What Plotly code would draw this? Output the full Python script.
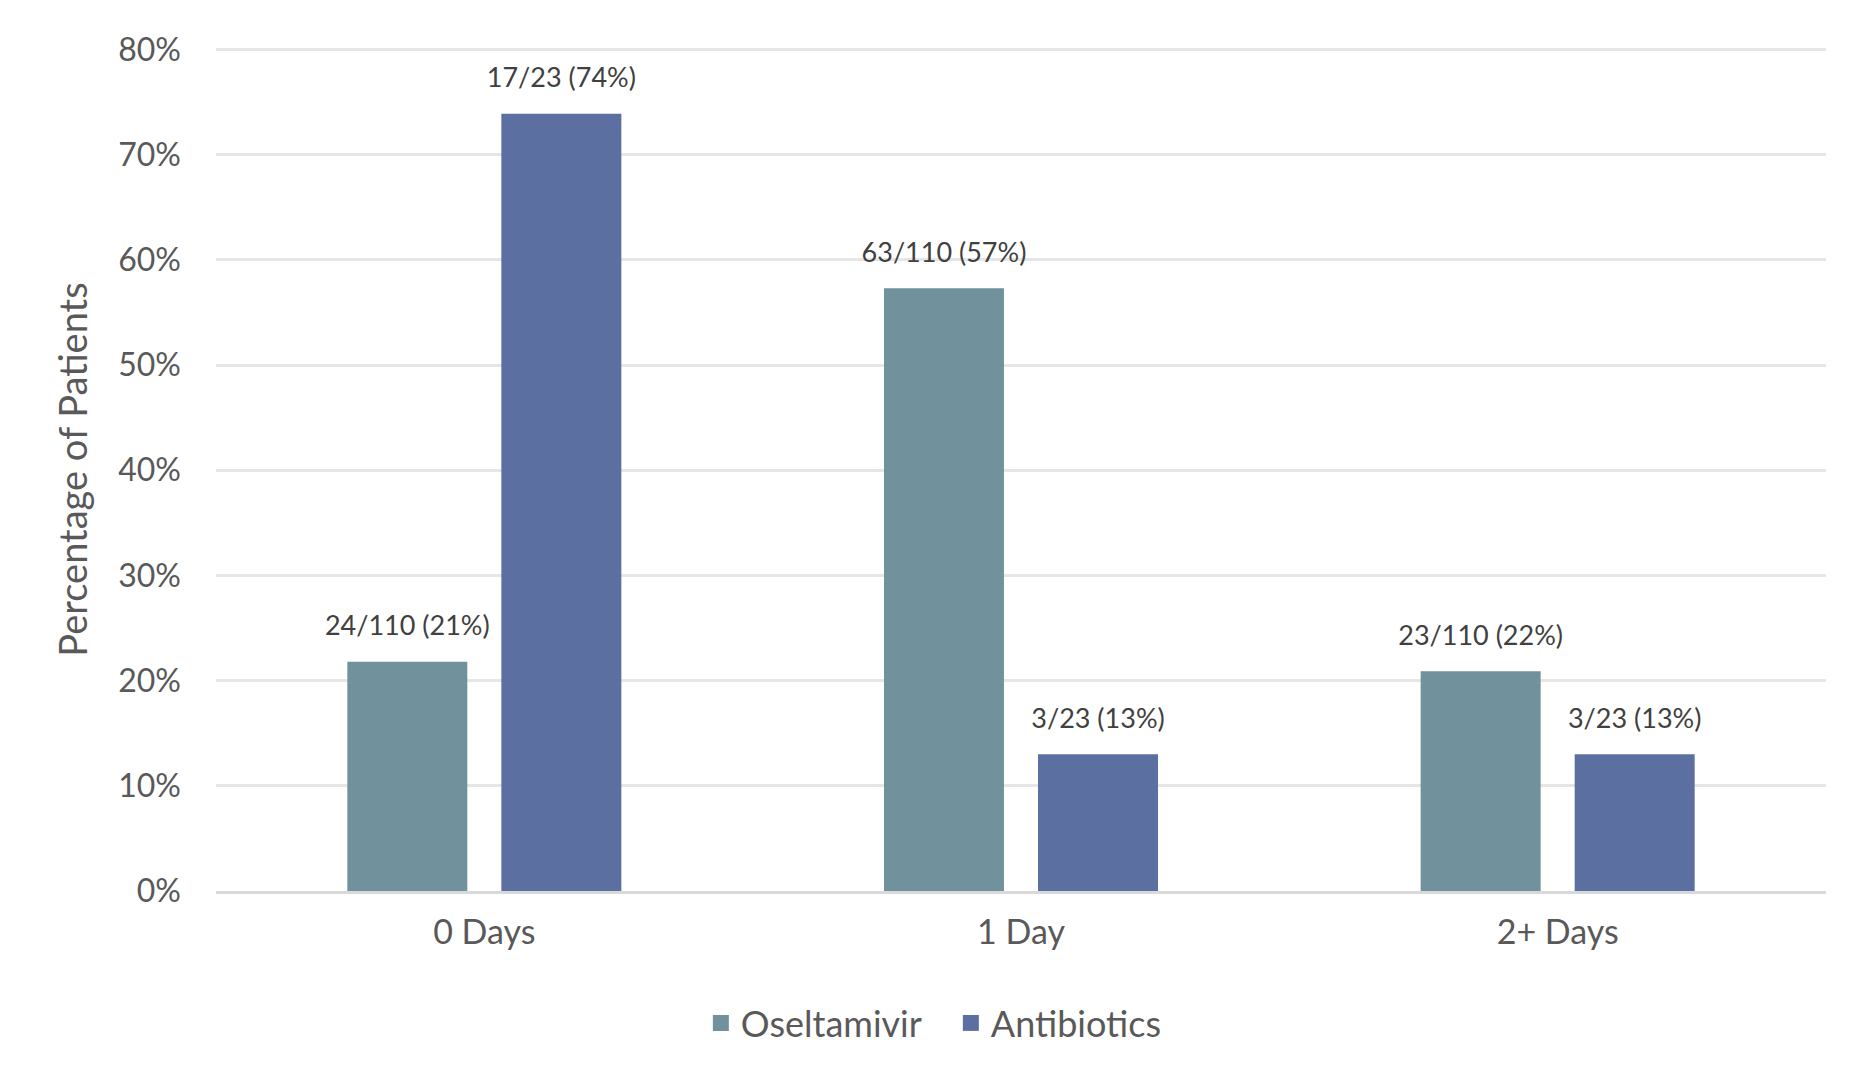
import plotly.graph_objects as go

categories = ["0 Days", "1 Day", "2+ Days"]
series_names = ["Oseltamivir", "Antibiotics"]
oseltamivir = [21.8, 57.3, 20.9]
antibiotics = [73.9, 13.0, 13.0]
oseltamivir_labels = ["24/110 (21%)", "63/110 (57%)", "23/110 (22%)"]
antibiotics_labels = ["17/23 (74%)", "3/23 (13%)", "3/23 (13%)"]
y_ticks = [0, 10, 20, 30, 40, 50, 60, 70, 80]
y_tick_labels = ["0%", "10%", "20%", "30%", "40%", "50%", "60%", "70%", "80%"]

colors = ["#71929C", "#5B6FA0"]
FONT = "Lato"
TXT = "#595959"

fig = go.Figure()
for name, vals, labels, col in [
    (series_names[0], oseltamivir, oseltamivir_labels, colors[0]),
    (series_names[1], antibiotics, antibiotics_labels, colors[1]),
]:
    fig.add_trace(go.Bar(
        x=categories, y=vals, name=name, marker_color=col,
        marker_line_width=0, offsetgroup=name, showlegend=False,
    ))
    fig.add_trace(go.Scatter(
        x=categories, y=vals, mode="markers+text", text=labels,
        textposition="top center", offsetgroup=name,
        marker=dict(size=30, opacity=0),
        textfont=dict(family=FONT, size=27, color="#404040"),
        showlegend=False, hoverinfo="skip", cliponaxis=False,
    ))
    # legend entry with a square swatch
    fig.add_trace(go.Scatter(
        x=[categories[0]], y=[None], mode="markers", name=name,
        offsetgroup=name,
        marker=dict(symbol="square", size=20, color=col),
        showlegend=True, hoverinfo="skip",
    ))

fig.update_layout(
    width=1856, height=1070,
    barmode="group", scattermode="group",
    bargap=0.426, bargroupgap=0.221,
    plot_bgcolor="white", paper_bgcolor="white",
    margin=dict(l=208, r=38, t=40, b=187),
    font=dict(family=FONT, color=TXT, size=30),
    legend=dict(
        orientation="h", x=0.508, xanchor="center", xref="container",
        y=55 / 1070, yanchor="middle", yref="container",
        font=dict(family=FONT, size=36, color=TXT),
        itemsizing="trace", itemwidth=30, tracegroupgap=0,
        entrywidth=205,
    ),
    showlegend=True,
)
fig.update_yaxes(
    range=[0, 80.15], tickvals=y_ticks, ticktext=y_tick_labels,
    showgrid=True, gridcolor="#E6E6E6", gridwidth=3,
    zeroline=False, showline=False, ticks="",
    tickfont=dict(family=FONT, size=32, color=TXT), ticklabelstandoff=34,
    title=dict(text="Percentage of Patients", font=dict(family=FONT, size=38, color=TXT), standoff=18),
)
fig.update_xaxes(
    showgrid=False, showline=True, linecolor="#D9D9D9", linewidth=3,
    ticks="", tickfont=dict(family=FONT, size=34, color=TXT), ticklabelstandoff=9,
)

fig.write_html("out.html")
